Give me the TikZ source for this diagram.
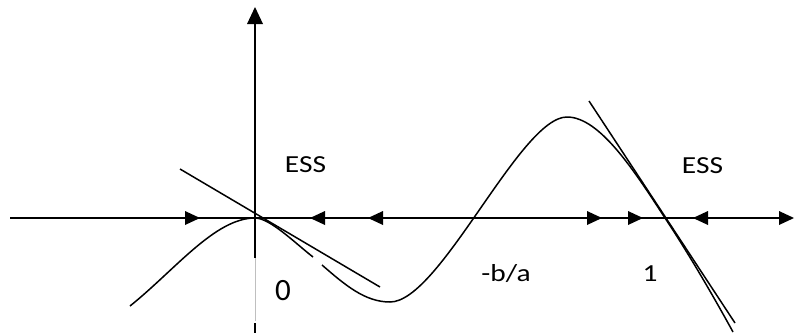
\documentclass[tikz,border=0pt]{standalone}
\usepackage{fontspec}
\setmainfont{Carlito}
\begin{document}
\begin{tikzpicture}[x=1pt,y=-1pt,
  ln/.style={line width=1.5pt,line join=round},
  lbl/.style={font=\fontsize{24.5}{28}\selectfont,inner sep=0pt,anchor=base},
  tip/.style={fill=black}]
\useasboundingbox (0,0) rectangle (795,335);
% axes
\draw[ln] (10,218) -- (788,218);
\draw[ln] (255,258) -- (255,22);
\fill[tip] (247,24) -- (255,7) -- (263,24) -- cycle;
\draw[gray!50,line width=0.6pt] (255,258) -- (255,321);
\draw[ln] (255,323) -- (255,333);
% arrowheads on the horizontal axis
\foreach \t in {200,602,643,794}{\fill[tip] ({\t-15},211) -- (\t,218) -- ({\t-15},225) -- cycle;}
\foreach \t in {310,368,693}{\fill[tip] ({\t+15},211) -- (\t,218) -- ({\t+15},225) -- cycle;}
% curve
\draw[ln] (130,306) .. controls (175,270) and (215,218) .. (255,218)
  .. controls (270,218) and (295,243) .. (313,257);
\draw[ln] (322,265) .. controls (345,285) and (365,302) .. (390,302)
  .. controls (440,302) and (520,117) .. (567,117)
  .. controls (600,117) and (635,172) .. (665,218)
  .. controls (685,248) and (710,290) .. (733,332);
% tangent lines
\draw[ln] (180,169) -- (380,287);
\draw[ln] (589,101) -- (735,323);
% labels
\node[lbl] (ess1) at (305.5,172) {\scalebox{1.2}[1]{ESS}};
\node[lbl] (ess2) at (702.5,173) {\scalebox{1.2}[1]{ESS}};
\node[lbl,font=\fontsize{31}{36}\selectfont] (zero) at (283,300) {0};
\node[lbl] (mba) at (506,281) {\scalebox{1.2}[1]{-b/a}};
\node[lbl] (one) at (650,281) {\scalebox{1.2}[1]{1}};
\end{tikzpicture}
\end{document}
